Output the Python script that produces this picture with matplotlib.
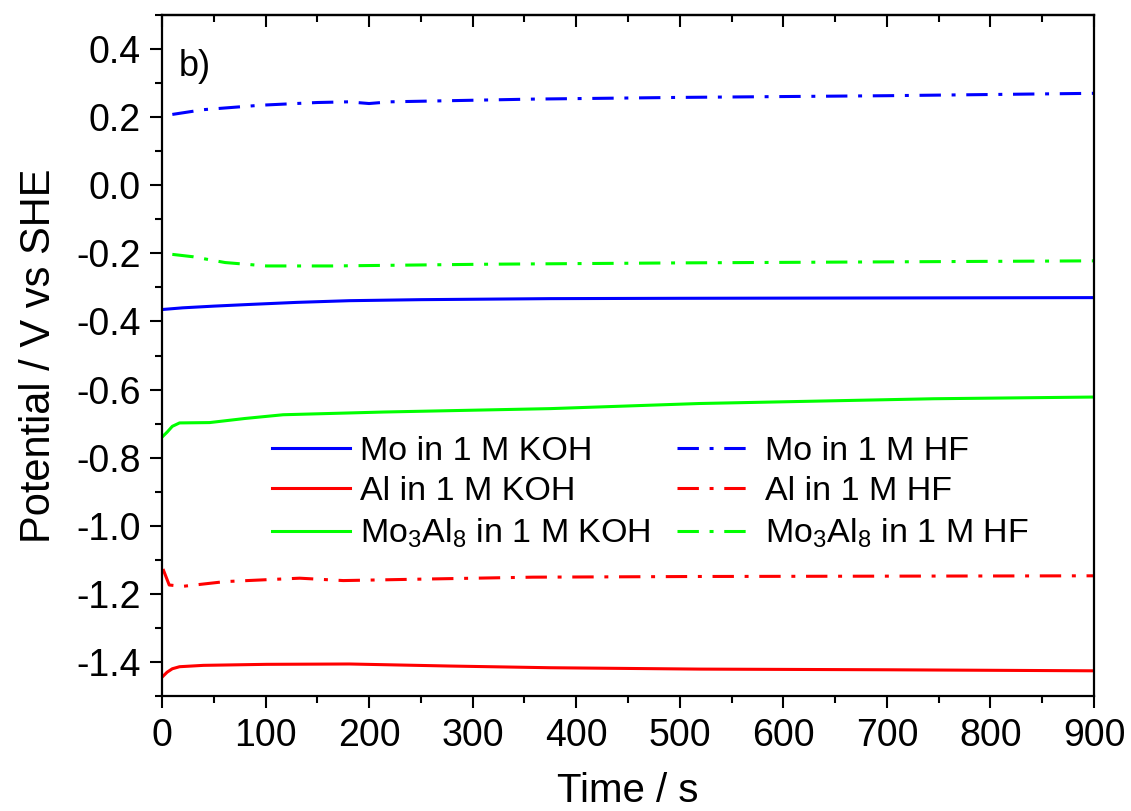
import matplotlib
matplotlib.use("Agg")
import matplotlib.pyplot as plt
from matplotlib.ticker import MultipleLocator

plt.rcParams['font.family'] = ['Liberation Sans', 'DejaVu Sans']
plt.rcParams['mathtext.fontset'] = 'custom'
plt.rcParams['mathtext.rm'] = 'Liberation Sans'
plt.rcParams['mathtext.it'] = 'Liberation Sans:italic'

# Open circuit potentials (time in s, potential in V vs SHE)
t_mo_koh = [0, 20, 50, 85, 130, 181, 250, 375, 500, 700, 900]
v_mo_koh = [-0.365, -0.360, -0.355, -0.350, -0.344, -0.339, -0.336, -0.333, -0.332, -0.331, -0.330]

t_al_koh = [0, 5, 10, 17, 40, 101, 181, 278, 375, 519, 700, 900]
v_al_koh = [-1.445, -1.430, -1.420, -1.414, -1.410, -1.407, -1.406, -1.412, -1.417, -1.421, -1.423, -1.426]

t_moal_koh = [0, 5, 10, 17, 46, 80, 117, 214, 375, 519, 745, 900]
v_moal_koh = [-0.740, -0.725, -0.708, -0.698, -0.697, -0.685, -0.674, -0.666, -0.656, -0.641, -0.627, -0.622]

t_mo_hf = [10, 40, 95, 150, 180, 200, 220, 358, 500, 700, 900]
v_mo_hf = [0.208, 0.222, 0.235, 0.243, 0.245, 0.240, 0.245, 0.253, 0.258, 0.263, 0.270]

t_al_hf = [1, 7, 20, 61, 133, 175, 246, 358, 519, 700, 900]
v_al_hf = [-1.127, -1.174, -1.178, -1.164, -1.154, -1.161, -1.157, -1.151, -1.149, -1.148, -1.147]

t_moal_hf = [10, 30, 61, 101, 165, 310, 500, 700, 900]
v_moal_hf = [-0.203, -0.210, -0.227, -0.237, -0.237, -0.232, -0.228, -0.225, -0.222]

fig = plt.figure(figsize=(11.31, 8.11), dpi=100)
ax = fig.add_axes([0.1432, 0.1418, 0.8241, 0.8397])

lw = 2.2
dd = (7, 3.5, 1.3, 3.5)
ax.plot(t_mo_koh, v_mo_koh, color='#0000ff', lw=lw, label='Mo in 1 M KOH')
ax.plot(t_al_koh, v_al_koh, color='#ff0000', lw=lw, label='Al in 1 M KOH')
ax.plot(t_moal_koh, v_moal_koh, color='#00ff00', lw=lw, label=r'Mo$_3$Al$_8$ in 1 M KOH')
ax.plot(t_mo_hf, v_mo_hf, color='#0000ff', lw=lw, dashes=dd, label='Mo in 1 M HF')
ax.plot(t_al_hf, v_al_hf, color='#ff0000', lw=lw, dashes=dd, label='Al in 1 M HF')
ax.plot(t_moal_hf, v_moal_hf, color='#00ff00', lw=lw, dashes=dd, label=r'Mo$_3$Al$_8$ in 1 M HF')

ax.set_xlim(0, 900)
ax.set_ylim(-1.5, 0.5)
ax.xaxis.set_major_locator(MultipleLocator(100))
ax.xaxis.set_minor_locator(MultipleLocator(50))
ax.yaxis.set_major_locator(MultipleLocator(0.2))
ax.yaxis.set_minor_locator(MultipleLocator(0.1))
ax.yaxis.set_major_formatter(plt.FuncFormatter(lambda v, p: f"{v:.1f}".replace('-0.0', '0.0')))

ax.tick_params(which='major', direction='out', length=8.5, width=1.5, labelsize=27, pad=7)
ax.tick_params(which='minor', direction='out', length=5, width=1.5)
for s in ax.spines.values():
    s.set_linewidth(1.6)

# top axis ticks point inwards, no labels
top = ax.secondary_xaxis('top')
top.xaxis.set_major_locator(MultipleLocator(100))
top.xaxis.set_minor_locator(MultipleLocator(50))
top.tick_params(which='major', direction='in', length=8.5, width=1.5, labeltop=False)
top.tick_params(which='minor', direction='in', length=5, width=1.5)
top.spines['top'].set_linewidth(1.6)

ax.set_xlabel('Time / s', fontsize=29, labelpad=13)
ax.set_ylabel('Potential / V vs SHE', fontsize=30, labelpad=12)

ax.text(0.018, 0.95, 'b)', transform=ax.transAxes, fontsize=26, va='top', ha='left')

ax.legend(loc='upper left', bbox_to_anchor=(0.118, 0.382), ncol=2, frameon=False,
          fontsize=24.5, handlelength=2.3, handletextpad=0.3, columnspacing=0.75,
          labelspacing=0.28, borderpad=0, borderaxespad=0)

fig.savefig('out.png', dpi=100)
